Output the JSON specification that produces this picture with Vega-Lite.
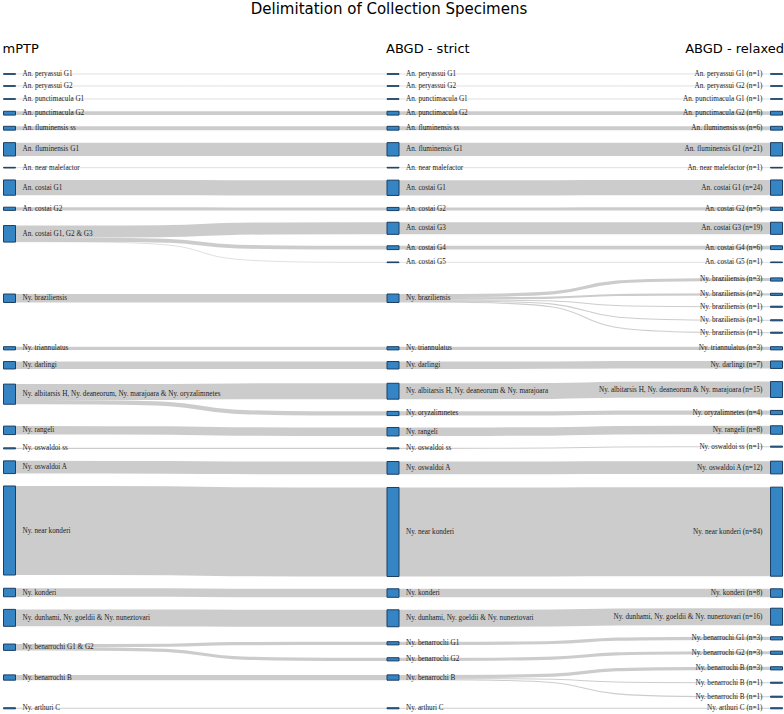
{
  "$schema": "https://vega.github.io/schema/vega-lite/v6.json",
  "width": 784,
  "height": 694,
  "autosize": {"type": "none"},
  "padding": {"top": 20, "left": 0, "right": 0, "bottom": 0},
  "background": "white",
  "config": {"view": {"stroke": null}},
  "title": {"text": "Delimitation of Collection Specimens", "font": "DejaVu Sans", "fontSize": 15, "fontWeight": "normal", "color": "#000", "anchor": "middle", "baseline": "alphabetic", "offset": 7, "dy": 16, "dx": -3},
  "datasets": {
    "nodes": [
      {"id": "L1", "col": 0, "g": "An", "name": "An. peryassui G1", "n": 1, "y": 0.94},
      {"id": "L2", "col": 0, "g": "An", "name": "An. peryassui G2", "n": 1, "y": 12.26},
      {"id": "L3", "col": 0, "g": "An", "name": "An. punctimacula G1", "n": 1, "y": 24.53},
      {"id": "L4", "col": 0, "g": "An", "name": "An. punctimacula G2", "n": 6, "y": 37.9},
      {"id": "L5", "col": 0, "g": "An", "name": "An. fluminensis ss", "n": 6, "y": 52.1},
      {"id": "L6", "col": 0, "g": "An", "name": "An. fluminensis G1", "n": 21, "y": 72.0},
      {"id": "L7", "col": 0, "g": "An", "name": "An. near malefactor", "n": 1, "y": 89.3},
      {"id": "L8", "col": 0, "g": "An", "name": "An. costai G1", "n": 24, "y": 108.1},
      {"id": "L9", "col": 0, "g": "An", "name": "An. costai G2", "n": 5, "y": 128.1},
      {"id": "L10", "col": 0, "g": "An", "name": "An. costai G1, G2 & G3", "n": 26, "y": 151.7},
      {"id": "L11", "col": 0, "g": "Ny", "name": "Ny. braziliensis", "n": 8, "y": 212.5},
      {"id": "L12", "col": 0, "g": "Ny", "name": "Ny. triannulatus", "n": 3, "y": 259.7},
      {"id": "L13", "col": 0, "g": "Ny", "name": "Ny. darlingi", "n": 7, "y": 275.7},
      {"id": "L14", "col": 0, "g": "Ny", "name": "Ny. albitarsis H, Ny. deaneorum, Ny. marajoara & Ny. oryzalimnetes", "n": 19, "y": 303.0},
      {"id": "L15", "col": 0, "g": "Ny", "name": "Ny. rangeli", "n": 8, "y": 337.1},
      {"id": "L16", "col": 0, "g": "Ny", "name": "Ny. oswaldoi ss", "n": 1, "y": 354.1},
      {"id": "L17", "col": 0, "g": "Ny", "name": "Ny. oswaldoi A", "n": 12, "y": 371.9},
      {"id": "L18", "col": 0, "g": "Ny", "name": "Ny. near konderi", "n": 84, "y": 431.6},
      {"id": "L19", "col": 0, "g": "Ny", "name": "Ny. konderi", "n": 8, "y": 490.1},
      {"id": "L20", "col": 0, "g": "Ny", "name": "Ny. dunhami, Ny. goeldii & Ny. nuneztovari", "n": 16, "y": 514.0},
      {"id": "L21", "col": 0, "g": "Ny", "name": "Ny. benarrochi G1 & G2", "n": 6, "y": 541.7},
      {"id": "L22", "col": 0, "g": "Ny", "name": "Ny. benarrochi B", "n": 5, "y": 570.3},
      {"id": "L23", "col": 0, "g": "Ny", "name": "Ny. arthuri C", "n": 1, "y": 599.3},
      {"id": "M1", "col": 1, "g": "An", "name": "An. peryassui G1", "n": 1, "y": 0.94},
      {"id": "M2", "col": 1, "g": "An", "name": "An. peryassui G2", "n": 1, "y": 12.26},
      {"id": "M3", "col": 1, "g": "An", "name": "An. punctimacula G1", "n": 1, "y": 24.53},
      {"id": "M4", "col": 1, "g": "An", "name": "An. punctimacula G2", "n": 6, "y": 37.9},
      {"id": "M5", "col": 1, "g": "An", "name": "An. fluminensis ss", "n": 6, "y": 52.1},
      {"id": "M6", "col": 1, "g": "An", "name": "An. fluminensis G1", "n": 21, "y": 72.0},
      {"id": "M7", "col": 1, "g": "An", "name": "An. near malefactor", "n": 1, "y": 89.3},
      {"id": "M8", "col": 1, "g": "An", "name": "An. costai G1", "n": 24, "y": 108.3},
      {"id": "M9", "col": 1, "g": "An", "name": "An. costai G2", "n": 5, "y": 128.3},
      {"id": "M10", "col": 1, "g": "An", "name": "An. costai G3", "n": 19, "y": 146.5},
      {"id": "M11", "col": 1, "g": "An", "name": "An. costai G4", "n": 6, "y": 164.8},
      {"id": "M12", "col": 1, "g": "An", "name": "An. costai G5", "n": 1, "y": 178.6},
      {"id": "M13", "col": 1, "g": "Ny", "name": "Ny. braziliensis", "n": 8, "y": 212.5},
      {"id": "M14", "col": 1, "g": "Ny", "name": "Ny. triannulatus", "n": 3, "y": 259.7},
      {"id": "M15", "col": 1, "g": "Ny", "name": "Ny. darlingi", "n": 7, "y": 275.7},
      {"id": "M16", "col": 1, "g": "Ny", "name": "Ny. albitarsis H, Ny. deaneorum & Ny. marajoara", "n": 15, "y": 300.2},
      {"id": "M17", "col": 1, "g": "Ny", "name": "Ny. oryzalimnetes", "n": 4, "y": 321.2},
      {"id": "M18", "col": 1, "g": "Ny", "name": "Ny. rangeli", "n": 8, "y": 338.4},
      {"id": "M19", "col": 1, "g": "Ny", "name": "Ny. oswaldoi ss", "n": 1, "y": 354.1},
      {"id": "M20", "col": 1, "g": "Ny", "name": "Ny. oswaldoi A", "n": 12, "y": 372.5},
      {"id": "M21", "col": 1, "g": "Ny", "name": "Ny. near konderi", "n": 84, "y": 433.0},
      {"id": "M22", "col": 1, "g": "Ny", "name": "Ny. konderi", "n": 8, "y": 490.6},
      {"id": "M23", "col": 1, "g": "Ny", "name": "Ny. dunhami, Ny. goeldii & Ny. nuneztovari", "n": 16, "y": 514.4},
      {"id": "M24", "col": 1, "g": "Ny", "name": "Ny. benarrochi G1", "n": 3, "y": 538.0},
      {"id": "M25", "col": 1, "g": "Ny", "name": "Ny. benarrochi G2", "n": 3, "y": 553.1},
      {"id": "M26", "col": 1, "g": "Ny", "name": "Ny. benarrochi B", "n": 5, "y": 570.3},
      {"id": "M27", "col": 1, "g": "Ny", "name": "Ny. arthuri C", "n": 1, "y": 599.3},
      {"id": "R1", "col": 2, "g": "An", "name": "An. peryassui G1", "n": 1, "y": 0.94},
      {"id": "R2", "col": 2, "g": "An", "name": "An. peryassui G2", "n": 1, "y": 12.26},
      {"id": "R3", "col": 2, "g": "An", "name": "An. punctimacula G1", "n": 1, "y": 24.53},
      {"id": "R4", "col": 2, "g": "An", "name": "An. punctimacula G2", "n": 6, "y": 37.9},
      {"id": "R5", "col": 2, "g": "An", "name": "An. fluminensis ss", "n": 6, "y": 52.1},
      {"id": "R6", "col": 2, "g": "An", "name": "An. fluminensis G1", "n": 21, "y": 72.0},
      {"id": "R7", "col": 2, "g": "An", "name": "An. near malefactor", "n": 1, "y": 89.3},
      {"id": "R8", "col": 2, "g": "An", "name": "An. costai G1", "n": 24, "y": 108.1},
      {"id": "R9", "col": 2, "g": "An", "name": "An. costai G2", "n": 5, "y": 128.1},
      {"id": "R10", "col": 2, "g": "An", "name": "An. costai G3", "n": 19, "y": 146.5},
      {"id": "R11", "col": 2, "g": "An", "name": "An. costai G4", "n": 6, "y": 164.8},
      {"id": "R12", "col": 2, "g": "An", "name": "An. costai G5", "n": 1, "y": 178.6},
      {"id": "R13", "col": 2, "g": "Ny", "name": "Ny. braziliensis", "n": 3, "y": 194.8},
      {"id": "R14", "col": 2, "g": "Ny", "name": "Ny. braziliensis", "n": 2, "y": 208.8},
      {"id": "R15", "col": 2, "g": "Ny", "name": "Ny. braziliensis", "n": 1, "y": 220.5},
      {"id": "R16", "col": 2, "g": "Ny", "name": "Ny. braziliensis", "n": 1, "y": 233.3},
      {"id": "R17", "col": 2, "g": "Ny", "name": "Ny. braziliensis", "n": 1, "y": 245.0},
      {"id": "R18", "col": 2, "g": "Ny", "name": "Ny. triannulatus", "n": 3, "y": 259.7},
      {"id": "R19", "col": 2, "g": "Ny", "name": "Ny. darlingi", "n": 7, "y": 275.2},
      {"id": "R20", "col": 2, "g": "Ny", "name": "Ny. albitarsis H, Ny. deaneorum & Ny. marajoara", "n": 15, "y": 298.6},
      {"id": "R21", "col": 2, "g": "Ny", "name": "Ny. oryzalimnetes", "n": 4, "y": 320.3},
      {"id": "R22", "col": 2, "g": "Ny", "name": "Ny. rangeli", "n": 8, "y": 336.8},
      {"id": "R23", "col": 2, "g": "Ny", "name": "Ny. oswaldoi ss", "n": 1, "y": 352.5},
      {"id": "R24", "col": 2, "g": "Ny", "name": "Ny. oswaldoi A", "n": 12, "y": 372.2},
      {"id": "R25", "col": 2, "g": "Ny", "name": "Ny. near konderi", "n": 84, "y": 432.7},
      {"id": "R26", "col": 2, "g": "Ny", "name": "Ny. konderi", "n": 8, "y": 490.6},
      {"id": "R27", "col": 2, "g": "Ny", "name": "Ny. dunhami, Ny. goeldii & Ny. nuneztovari", "n": 16, "y": 512.9},
      {"id": "R28", "col": 2, "g": "Ny", "name": "Ny. benarrochi G1", "n": 3, "y": 533.3},
      {"id": "R29", "col": 2, "g": "Ny", "name": "Ny. benarrochi G2", "n": 3, "y": 546.9},
      {"id": "R30", "col": 2, "g": "Ny", "name": "Ny. benarrochi B", "n": 3, "y": 561.6},
      {"id": "R31", "col": 2, "g": "Ny", "name": "Ny. benarrochi B", "n": 1, "y": 575.2},
      {"id": "R32", "col": 2, "g": "Ny", "name": "Ny. benarrochi B", "n": 1, "y": 588.4},
      {"id": "R33", "col": 2, "g": "Ny", "name": "Ny. arthuri C", "n": 1, "y": 599.3}
    ],
    "links": [
      {"s": "L1", "t": "M1", "n": 1}, {"s": "L2", "t": "M2", "n": 1}, {"s": "L3", "t": "M3", "n": 1},
      {"s": "L4", "t": "M4", "n": 6}, {"s": "L5", "t": "M5", "n": 6}, {"s": "L6", "t": "M6", "n": 21},
      {"s": "L7", "t": "M7", "n": 1}, {"s": "L8", "t": "M8", "n": 24}, {"s": "L9", "t": "M9", "n": 5},
      {"s": "L10", "t": "M10", "n": 19}, {"s": "L10", "t": "M11", "n": 6}, {"s": "L10", "t": "M12", "n": 1},
      {"s": "L11", "t": "M13", "n": 8}, {"s": "L12", "t": "M14", "n": 3}, {"s": "L13", "t": "M15", "n": 7},
      {"s": "L14", "t": "M16", "n": 15}, {"s": "L14", "t": "M17", "n": 4}, {"s": "L15", "t": "M18", "n": 8},
      {"s": "L16", "t": "M19", "n": 1}, {"s": "L17", "t": "M20", "n": 12}, {"s": "L18", "t": "M21", "n": 84},
      {"s": "L19", "t": "M22", "n": 8}, {"s": "L20", "t": "M23", "n": 16}, {"s": "L21", "t": "M24", "n": 3},
      {"s": "L21", "t": "M25", "n": 3}, {"s": "L22", "t": "M26", "n": 5}, {"s": "L23", "t": "M27", "n": 1},
      {"s": "M1", "t": "R1", "n": 1}, {"s": "M2", "t": "R2", "n": 1}, {"s": "M3", "t": "R3", "n": 1},
      {"s": "M4", "t": "R4", "n": 6}, {"s": "M5", "t": "R5", "n": 6}, {"s": "M6", "t": "R6", "n": 21},
      {"s": "M7", "t": "R7", "n": 1}, {"s": "M8", "t": "R8", "n": 24}, {"s": "M9", "t": "R9", "n": 5},
      {"s": "M10", "t": "R10", "n": 19}, {"s": "M11", "t": "R11", "n": 6}, {"s": "M12", "t": "R12", "n": 1},
      {"s": "M13", "t": "R13", "n": 3}, {"s": "M13", "t": "R14", "n": 2}, {"s": "M13", "t": "R15", "n": 1},
      {"s": "M13", "t": "R16", "n": 1}, {"s": "M13", "t": "R17", "n": 1}, {"s": "M14", "t": "R18", "n": 3},
      {"s": "M15", "t": "R19", "n": 7}, {"s": "M16", "t": "R20", "n": 15}, {"s": "M17", "t": "R21", "n": 4},
      {"s": "M18", "t": "R22", "n": 8}, {"s": "M19", "t": "R23", "n": 1}, {"s": "M20", "t": "R24", "n": 12},
      {"s": "M21", "t": "R25", "n": 84}, {"s": "M22", "t": "R26", "n": 8}, {"s": "M23", "t": "R27", "n": 16},
      {"s": "M24", "t": "R28", "n": 3}, {"s": "M25", "t": "R29", "n": 3}, {"s": "M26", "t": "R30", "n": 3},
      {"s": "M26", "t": "R31", "n": 1}, {"s": "M26", "t": "R32", "n": 1}, {"s": "M27", "t": "R33", "n": 1}
    ],
    "headers": [
      {"col": 0, "h": "mPTP"},
      {"col": 1, "h": "ABGD - strict"},
      {"col": 2, "h": "ABGD - relaxed"}
    ]
  },
  "layer": [
    {
      "data": {"name": "links"},
      "transform": [
        {"lookup": "s", "from": {"data": {"name": "nodes"}, "key": "id", "fields": ["col", "y", "n", "g"]}, "as": ["sc", "sy", "sn", "g"]},
        {"lookup": "t", "from": {"data": {"name": "nodes"}, "key": "id", "fields": ["y", "n"]}, "as": ["ty", "tn"]},
        {"calculate": "datum.g == 'An' ? 0.6 : 1", "as": "k"},
        {"calculate": "datum.n * datum.k", "as": "w"},
        {"stack": "w", "groupby": ["s"], "sort": [{"field": "ty", "order": "ascending"}], "as": ["so0", "so1"]},
        {"stack": "w", "groupby": ["t"], "sort": [{"field": "sy", "order": "ascending"}], "as": ["to0", "to1"]},
        {"calculate": "datum.sy - datum.sn * datum.k / 2 + (datum.so0 + datum.so1) / 2", "as": "p0"},
        {"calculate": "datum.p0", "as": "p1"},
        {"calculate": "datum.ty - datum.tn * datum.k / 2 + (datum.to0 + datum.to1) / 2", "as": "p3"},
        {"calculate": "datum.p3", "as": "p2"},
        {"calculate": "datum.s + '>' + datum.t", "as": "lid"},
        {"fold": ["p0", "p1", "p2", "p3"], "as": ["key", "py"]},
        {"calculate": "datum.sc + (datum.key == 'p0' ? 0 : (datum.key == 'p3' ? 1 : 0.5))", "as": "px"}
      ],
      "mark": {"type": "line", "interpolate": "basis", "color": "#000", "strokeOpacity": 0.2, "strokeCap": "butt"},
      "encoding": {
        "x": {"field": "px", "type": "quantitative", "scale": {"domain": [0, 2], "range": [9.5, 776.5], "nice": false, "zero": false}, "axis": null},
        "y": {"field": "py", "type": "quantitative", "scale": {"domain": [-50, 604.7], "range": [0, 694], "nice": false, "zero": false}, "axis": null},
        "detail": {"field": "lid", "type": "nominal"},
        "order": {"field": "key", "type": "ordinal"},
        "strokeWidth": {"field": "w", "type": "quantitative", "scale": {"domain": [0, 100], "range": [0, 106]}, "legend": null}
      }
    },
    {
      "data": {"name": "nodes"},
      "transform": [
        {"calculate": "datum.g == 'An' ? 0.6 : 1", "as": "k"},
        {"calculate": "datum.y - datum.n * datum.k / 2", "as": "y0"},
        {"calculate": "datum.y + datum.n * datum.k / 2", "as": "y1"}
      ],
      "mark": {"type": "rect", "fill": "#3585c5", "stroke": "#1c3f63", "strokeWidth": 1, "xOffset": -6, "x2Offset": 6},
      "encoding": {
        "x": {"field": "col", "type": "quantitative"},
        "x2": {"field": "col"},
        "y": {"field": "y0", "type": "quantitative"},
        "y2": {"field": "y1"}
      }
    },
    {
      "data": {"name": "nodes"},
      "transform": [{"filter": "datum.col < 2"}],
      "mark": {"type": "text", "align": "left", "baseline": "middle", "dx": 13, "font": "Liberation Serif", "fontSize": 7.2, "fill": "#222"},
      "encoding": {
        "x": {"field": "col", "type": "quantitative"},
        "y": {"field": "y", "type": "quantitative"},
        "text": {"field": "name"}
      }
    },
    {
      "data": {"name": "nodes"},
      "transform": [
        {"filter": "datum.col == 2"},
        {"calculate": "datum.name + ' (n=' + datum.n + ')'", "as": "lab"}
      ],
      "mark": {"type": "text", "align": "right", "baseline": "middle", "dx": -14, "font": "Liberation Serif", "fontSize": 7.2, "fill": "#222"},
      "encoding": {
        "x": {"field": "col", "type": "quantitative"},
        "y": {"field": "y", "type": "quantitative"},
        "text": {"field": "lab"}
      }
    },
    {
      "data": {"name": "headers"},
      "transform": [{"filter": "datum.col < 2"}],
      "mark": {"type": "text", "align": "left", "baseline": "alphabetic", "dx": -7, "font": "DejaVu Sans", "fontSize": 13, "fill": "#000"},
      "encoding": {
        "x": {"field": "col", "type": "quantitative"},
        "y": {"datum": -18.9},
        "text": {"field": "h"}
      }
    },
    {
      "data": {"name": "headers"},
      "transform": [{"filter": "datum.col == 2"}],
      "mark": {"type": "text", "align": "right", "baseline": "alphabetic", "dx": 7.5, "font": "DejaVu Sans", "fontSize": 13, "fill": "#000"},
      "encoding": {
        "x": {"field": "col", "type": "quantitative"},
        "y": {"datum": -18.9},
        "text": {"field": "h"}
      }
    }
  ]
}
